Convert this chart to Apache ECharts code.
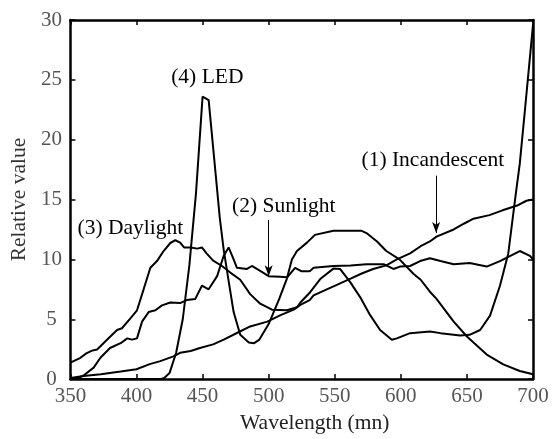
<!DOCTYPE html>
<html>
<head>
<meta charset="utf-8">
<script src="https://cdn.jsdelivr.net/npm/echarts@6/dist/echarts.min.js"></script>
<style>html,body{margin:0;padding:0;background:#fff;}#c{width:553px;height:439px;}</style>
</head>
<body>
<div id="c"></div>
<script>
// Tick values
const xTicks = [350, 400, 450, 500, 550, 600, 650, 700];
const yTicks = [0, 5, 10, 15, 20, 25, 30];

// Series values: [wavelength nm, relative value]
const incandescent = [[350,0.1],[360,0.25],[373,0.41],[388,0.63],[400,0.82],[410,1.25],[418,1.5],[428,1.9],[433,2.2],[441,2.35],[448,2.6],[458,2.9],[466,3.3],[476,3.85],[486,4.4],[499,4.8],[509,5.35],[519,5.8],[524,6.2],[531,6.6],[534,7.0],[544,7.5],[552,7.9],[562,8.4],[570,8.8],[579,9.2],[589,9.5],[597,10.0],[607,10.5],[615,11.1],[622,11.5],[627,11.9],[640,12.5],[648,13.0],[655,13.4],[667,13.7],[677,14.1],[688,14.5],[695,14.9],[700,15.0]];
const sunlight = [[350,0],[355,0.05],[360,0.3],[367.6,0.96],[372.7,1.78],[380,2.6],[388,3.0],[393,3.4],[396.6,3.3],[400.4,3.4],[404.2,4.8],[409.2,5.6],[414.3,5.75],[419.3,6.16],[425.6,6.4],[433,6.35],[438,6.6],[444.5,6.7],[449.5,7.8],[454.6,7.5],[461,8.6],[466,10.3],[469.7,11.0],[473.5,10.0],[476,9.3],[483.6,9.2],[487.3,9.45],[493.6,9.04],[500,8.6],[508.7,8.55],[514,8.5],[520,9.3],[525,9.0],[531,9.0],[534,9.3],[549,9.45],[562,9.5],[574,9.6],[587,9.6],[594.4,9.2],[599.4,9.4],[607,9.45],[614.6,9.86],[622,10.1],[630,9.86],[640,9.6],[652,9.7],[665,9.4],[675,9.86],[690,10.7],[697.7,10.3],[700,10.0]];
const daylight = [[350,1.37],[357.6,1.78],[362,2.15],[366.4,2.38],[370.2,2.47],[377.7,3.29],[385.3,4.1],[389,4.25],[395.4,5.07],[400.4,5.75],[405.4,7.5],[410.5,9.3],[415.5,9.86],[420.5,10.7],[425.6,11.37],[429.4,11.6],[433,11.4],[436,11.0],[441,11.0],[446,10.9],[449.5,11.0],[453,10.5],[458,9.9],[464.7,9.45],[471,8.9],[478.5,8.3],[486,7.1],[493.6,6.3],[502.5,5.8],[513.8,5.75],[521.4,6.0],[524,6.4],[531.4,7.26],[539,8.36],[549,9.23],[554,9.2],[561.7,8.1],[569.2,6.85],[576.8,5.34],[584.3,4.1],[593.2,3.29],[597,3.4],[607,3.84],[622,3.97],[630,3.84],[645,3.64],[652,3.7],[660,4.1],[667.5,5.3],[675,7.8],[681.3,10.5],[687,15.5],[690,18.0],[694,22.6],[700,29.6]];
const led = [[350,0],[418,0],[421,0.1],[425,0.5],[430,2.2],[435,5.0],[440,9.5],[445,15.5],[450,23.6],[454.6,23.3],[460,17],[463,13.5],[466,10.8],[470,8.0],[473.5,5.6],[478.5,3.7],[485,3.05],[489,3.0],[493,3.3],[500,4.6],[508,6.7],[513.8,8.4],[517.6,10.0],[521.4,10.7],[529,11.4],[535,12.05],[549,12.4],[570,12.4],[574,12.2],[582,11.5],[589,10.7],[599,10.0],[609.5,8.8],[615,8.3],[622,7.3],[627,6.7],[640,4.8],[650,3.56],[665,2.05],[677.5,1.23],[690,0.68],[700,0.4]];

// Annotations (data coordinates)
const annotText = ['(4) LED', '(1) Incandescent', '(2) Sunlight', '(3) Daylight'];
const annotX = [453.6, 624.2, 511.4, 395.4];
const annotY = [25.2, 18.3, 14.4, 12.6];
const arrowX = [500, 626.7];
const arrowTop = [13.3, 17.0];
const arrowTip = [8.6, 12.2];

const FONT = 'Liberation Serif';
const chart = echarts.init(document.getElementById('c'), null, {renderer: 'canvas'});

function lineSeries(name, data, extra) {
  return Object.assign({
    name: name, type: 'line', data: data, showSymbol: false, symbol: 'none',
    lineStyle: {color: '#000', width: 2}, z: 3, silent: true, animation: false
  }, extra || {});
}

const axisCommon = {
  axisLine: {show: true, onZero: false, lineStyle: {color: '#000', width: 2.5}},
  axisTick: {show: true, inside: true, length: 5, lineStyle: {color: '#000', width: 1.5}},
  splitLine: {show: false}
};

const option = {
  backgroundColor: '#fff',
  animation: false,
  grid: {left: 70, right: 20, top: 20, bottom: 54, containLabel: false},
  xAxis: [
    Object.assign({
      type: 'value', min: xTicks[0], max: xTicks[xTicks.length - 1], interval: 50, position: 'bottom',
      name: 'Wavelength (mn)', nameLocation: 'middle', nameGap: 28,
      nameTextStyle: {fontFamily: FONT, fontSize: 21.5, color: '#222', padding: [0, 0, 0, 26]},
      axisLabel: {fontFamily: FONT, fontSize: 21, color: '#555', margin: 7}
    }, axisCommon),
    Object.assign({
      type: 'value', min: xTicks[0], max: xTicks[xTicks.length - 1], interval: 50, position: 'top',
      axisLabel: {show: false}
    }, axisCommon)
  ],
  yAxis: [
    Object.assign({
      type: 'value', min: yTicks[0], max: yTicks[yTicks.length - 1], interval: 5, position: 'left',
      name: 'Relative value', nameLocation: 'middle', nameGap: 30, nameRotate: 90,
      nameTextStyle: {fontFamily: FONT, fontSize: 21.5, color: '#333'},
      axisLabel: {fontFamily: FONT, fontSize: 21, color: '#555', margin: 19, align: 'center'}
    }, axisCommon),
    Object.assign({
      type: 'value', min: yTicks[0], max: yTicks[yTicks.length - 1], interval: 5, position: 'right',
      axisLabel: {show: false}
    }, axisCommon)
  ],
  series: [
    lineSeries('Incandescent', incandescent, {
      markPoint: {
        symbol: 'circle', symbolSize: 0, silent: true, animation: false,
        label: {show: true, position: 'inside', fontFamily: FONT, fontSize: 21.5, color: '#000'},
        data: annotText.map((t, i) => ({coord: [annotX[i], annotY[i]], value: t,
          label: {formatter: t}}))
      },
      markLine: {
        silent: true, animation: false, symbol: ['none', 'arrow'], symbolSize: [6, 11],
        label: {show: false},
        lineStyle: {color: '#000', width: 1, type: 'solid'},
        data: arrowX.map((x, i) => [{coord: [x, arrowTop[i]]}, {coord: [x, arrowTip[i]]}])
      }
    }),
    lineSeries('Sunlight', sunlight),
    lineSeries('Daylight', daylight),
    lineSeries('LED', led)
  ]
};
chart.setOption(option);
</script>
</body>
</html>
